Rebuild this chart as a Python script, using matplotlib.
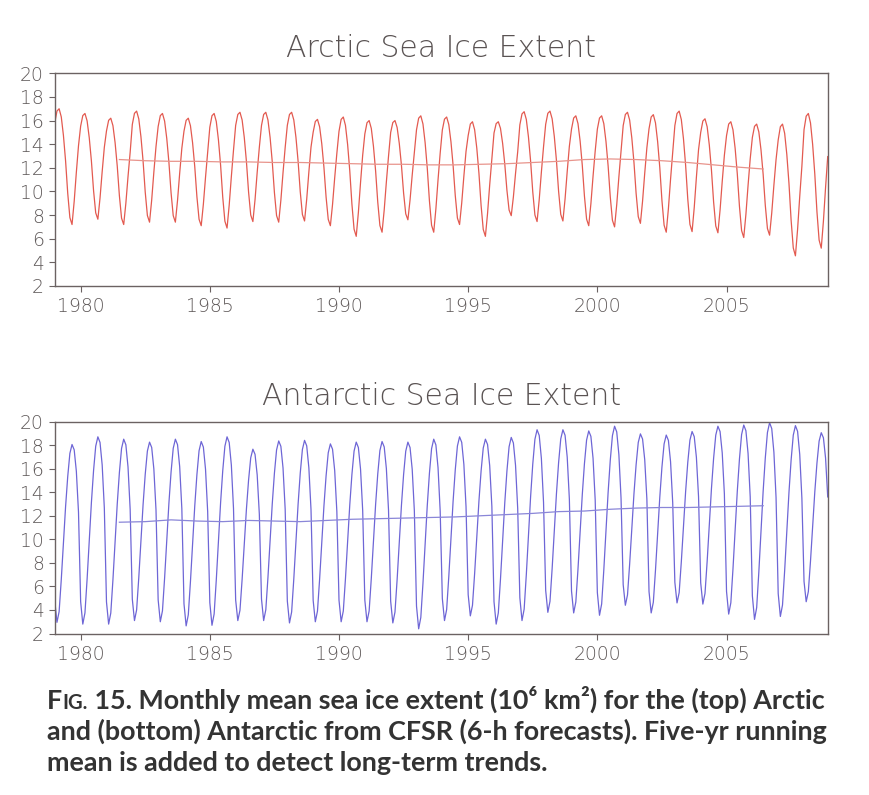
import numpy as np
import matplotlib
matplotlib.use("Agg")
import matplotlib.pyplot as plt

# yearly high / low, 1979..2008 (10^6 km^2)
years = np.arange(1979, 2009)

arctic_max = [17.0, 16.6, 16.2, 16.8, 16.6, 16.2, 16.6, 16.7, 16.7, 16.7,
              16.1, 16.3, 16.0, 16.0, 16.4, 16.3, 15.9, 15.9, 16.75, 16.8,
              16.4, 16.4, 16.7, 16.5, 16.8, 16.15, 15.9, 15.7, 15.7, 16.6]
arctic_min = [7.2, 7.65, 7.2, 7.4, 7.4, 7.1, 6.9, 7.45, 7.4, 7.5,
              7.1, 6.2, 6.55, 7.6, 6.55, 7.2, 6.2, 7.95, 7.45, 7.5,
              7.1, 7.0, 7.3, 6.55, 6.6, 6.5, 6.1, 6.3, 4.55, 5.2]

antarctic_max = [18.05, 18.7, 18.5, 18.25, 18.5, 18.3, 18.7, 17.65, 18.35, 18.4,
                 18.1, 18.25, 18.3, 18.25, 18.5, 18.7, 18.5, 18.65, 19.3, 19.3,
                 19.2, 19.6, 18.95, 18.85, 19.15, 19.6, 19.7, 19.9, 19.65, 19.05]
antarctic_min = [2.95, 2.8, 2.8, 3.1, 3.0, 2.65, 2.7, 3.1, 3.1, 2.9,
                 3.0, 3.0, 3.0, 2.9, 2.4, 3.1, 3.5, 2.8, 3.1, 3.8,
                 3.75, 3.55, 4.4, 3.75, 4.6, 4.5, 3.65, 3.2, 3.45, 4.7]

# where each month sits between the yearly low (0) and high (1), Jan..Dec
arctic_shape = [0.88, 0.98, 1.0, 0.93, 0.77, 0.55, 0.27, 0.06, 0.0, 0.2, 0.45, 0.68]
antarctic_shape = [0.12, 0.0, 0.06, 0.24, 0.45, 0.65, 0.82, 0.95, 1.0, 0.97, 0.85, 0.62]

# five-yr running mean
mean_years = [1981.5, 1982.5, 1983.5, 1984.5, 1985.5, 1986.5, 1987.5, 1988.5,
              1989.5, 1990.5, 1991.5, 1992.5, 1993.5, 1994.5, 1995.5, 1996.5,
              1997.5, 1998.5, 1999.5, 2000.5, 2001.5, 2002.5, 2003.5, 2004.5,
              2005.5, 2006.42]
arctic_mean = [12.7, 12.6, 12.55, 12.55, 12.5, 12.5, 12.45, 12.45, 12.4, 12.35,
               12.3, 12.3, 12.25, 12.25, 12.3, 12.35, 12.45, 12.55, 12.7, 12.75,
               12.7, 12.6, 12.45, 12.25, 12.05, 11.9]
antarctic_mean = [11.45, 11.5, 11.65, 11.55, 11.5, 11.6, 11.55, 11.5, 11.6, 11.7,
                  11.75, 11.8, 11.85, 11.9, 12.0, 12.1, 12.2, 12.35, 12.4, 12.55,
                  12.65, 12.7, 12.7, 12.75, 12.8, 12.85]

xticks = [1980, 1985, 1990, 1995, 2000, 2005]
yticks = [2, 4, 6, 8, 10, 12, 14, 16, 18, 20]

caption = ["IG. 15. Monthly mean sea ice extent (10\u2076 km\u00b2) for the (top) Arctic",
           "and (bottom) Antarctic from CFSR (6-h forecasts). Five-yr running",
           "mean is added to detect long-term trends."]


def monthly(lo, hi, shape):
    lo = np.asarray(lo)[:, None]
    hi = np.asarray(hi)[:, None]
    return (lo + (hi - lo) * np.asarray(shape)[None, :]).ravel()


t = years[0] + np.arange(len(years) * 12) / 12.0

plt.rcParams['font.family'] = ['DejaVu Sans']
fig = plt.figure(figsize=(8.7, 7.95), dpi=100)

spine_col = '#6b6262'
tick_col = '#5f5959'


def panel(rect, title, lo, hi, shape, mean, col, mcol):
    ax = fig.add_axes(rect)
    ax.plot(t, monthly(lo, hi, shape), color=col, lw=0.9)
    ax.plot(mean_years, mean, color=mcol, lw=0.9)
    ax.set_xlim(t[0], t[-1])
    ax.set_ylim(2, 20)
    ax.set_xticks(xticks)
    ax.set_yticks(yticks)
    ax.tick_params(direction='out', length=4, width=0.8, color=spine_col,
                   labelcolor=tick_col, labelsize=13.5, pad=4)
    for lab in ax.get_xticklabels() + ax.get_yticklabels():
        lab.set_fontweight('light')
    for s in ax.spines.values():
        s.set_color(spine_col)
        s.set_linewidth(1.0)
    ax.set_title(title, fontsize=21.5, fontweight='light', color='#5a5353', pad=12)
    return ax


panel([0.063, 0.6403, 0.8884, 0.2675], "Arctic Sea Ice Extent",
      arctic_min, arctic_max, arctic_shape, arctic_mean, '#e35a50', '#e8948c')
panel([0.063, 0.2031, 0.8884, 0.2667], "Antarctic Sea Ice Extent",
      antarctic_min, antarctic_max, antarctic_shape, antarctic_mean, '#6e66d6', '#8a86d8')

# caption, with small-caps "FIG."
cap = dict(family=['Lato', 'DejaVu Sans'], fontweight='bold', color='#333333')
y0 = 1 - 709 / 795.0
t0 = fig.text(47 / 870.0, y0, "F", fontsize=19.4, va='baseline', **cap)
t1 = fig.get_axes()[0].annotate("IG.", xy=(1, 0), xycoords=t0, va='bottom',
                               fontsize=14.5, annotation_clip=False, **cap)
fig.get_axes()[0].annotate(caption[0][3:], xy=(1, 0), xycoords=t1, va='bottom',
                           fontsize=19.4, annotation_clip=False, **cap)
fig.text(47 / 870.0, 1 - 740 / 795.0, caption[1], fontsize=19.4, va='baseline', **cap)
fig.text(47 / 870.0, 1 - 771 / 795.0, caption[2], fontsize=19.4, va='baseline', **cap)

fig.savefig("out.png", dpi=100)
